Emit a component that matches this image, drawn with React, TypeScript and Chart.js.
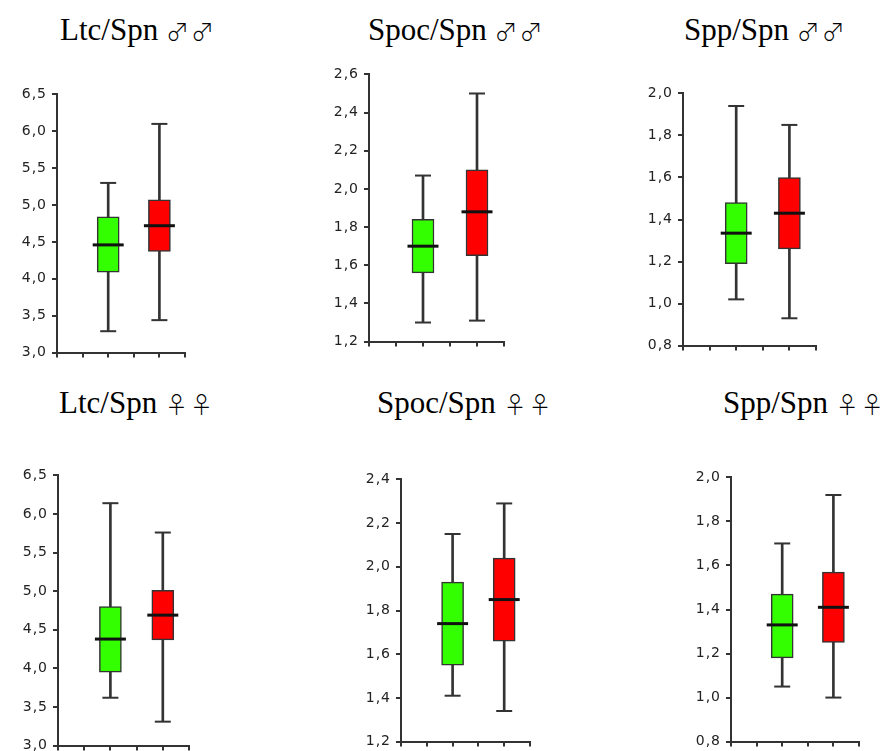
import React, { useEffect, useRef } from "react";
import { Chart, registerables } from "chart.js";

Chart.register(...registerables);

// ---------- data ----------
// x positions of the two groups on the 0..5 category axis
const groupPositions = [2, 4];
const xAxisRange = [0, 5];

// five-number summaries: [min, Q1, median, Q3, max]
const ltcMaleGreen = [3.29, 4.09, 4.46, 4.84, 5.3];
const ltcMaleRed = [3.44, 4.37, 4.72, 5.07, 6.1];
const spocMaleGreen = [1.3, 1.56, 1.7, 1.84, 2.07];
const spocMaleRed = [1.31, 1.65, 1.88, 2.1, 2.5];
const sppMaleGreen = [1.02, 1.19, 1.335, 1.48, 1.94];
const sppMaleRed = [0.93, 1.26, 1.43, 1.6, 1.85];
const ltcFemaleGreen = [3.62, 3.95, 4.38, 4.8, 6.14];
const ltcFemaleRed = [3.31, 4.37, 4.69, 5.01, 5.76];
const spocFemaleGreen = [1.41, 1.55, 1.74, 1.93, 2.15];
const spocFemaleRed = [1.34, 1.66, 1.85, 2.04, 2.29];
const sppFemaleGreen = [1.05, 1.18, 1.33, 1.47, 1.7];
const sppFemaleRed = [1.0, 1.25, 1.41, 1.57, 1.92];

const panelLabels = ["Ltc/Spn", "Spoc/Spn", "Spp/Spn", "Ltc/Spn", "Spoc/Spn", "Spp/Spn"];
const panelSexes = ["♂♂", "♂♂", "♂♂", "♀♀", "♀♀", "♀♀"];

// y axis: [min, max, step]
const yAxisLtc = [3.0, 6.5, 0.5];
const yAxisSpocMale = [1.2, 2.6, 0.2];
const yAxisSpocFemale = [1.2, 2.4, 0.2];
const yAxisSpp = [0.8, 2.0, 0.2];

const panelGreen = [ltcMaleGreen, spocMaleGreen, sppMaleGreen, ltcFemaleGreen, spocFemaleGreen, sppFemaleGreen];
const panelRed = [ltcMaleRed, spocMaleRed, sppMaleRed, ltcFemaleRed, spocFemaleRed, sppFemaleRed];
const panelYAxis = [yAxisLtc, yAxisSpocMale, yAxisSpp, yAxisLtc, yAxisSpocFemale, yAxisSpp];

// ---------- layout (pixels) ----------
const frames = [
  { L: 57, R: 185, T: 93, B: 354, tx: 60, tb: 39.5 },
  { L: 369, R: 504, T: 73, B: 343, tx: 368, tb: 40 },
  { L: 683, R: 816, T: 92, B: 347, tx: 684, tb: 40 },
  { L: 58, R: 189, T: 474, B: 747, tx: 59, tb: 413.3 },
  { L: 401, R: 530, T: 478, B: 743, tx: 377, tb: 413.3 },
  { L: 731, R: 859, T: 476, B: 743, tx: 723, tb: 413.3 },
];

const GREEN = "#33ff00";
const RED = "#ff0000";
const AXIS = "#333333";
const Y_AXIS_W = 50;
const X_AXIS_H = 12;
const PAD = 12;

const letterSpacingPlugin = {
  id: "tickLetterSpacing",
  beforeDraw(chart: any) {
    chart.ctx.letterSpacing = "1px";
  },
};

function BoxPanel({ idx }: { idx: number }) {
  const ref = useRef<HTMLCanvasElement | null>(null);
  const f = frames[idx];
  const width = f.R - f.L + Y_AXIS_W + PAD;
  const height = f.B - f.T + PAD + X_AXIS_H;

  useEffect(() => {
    const canvas = ref.current;
    if (!canvas) return;
    const g = panelGreen[idx];
    const r = panelRed[idx];
    const [yMin, yMax, yStep] = panelYAxis[idx];
    const [gx, rx] = groupPositions;

    const axisGrid = {
      display: true,
      drawOnChartArea: false,
      drawTicks: true,
      tickLength: 5,
      color: AXIS,
      lineWidth: 2,
      offset: false,
    };
    const axisBorder = { display: true, color: AXIS, width: 2 };

    const chart = new Chart(canvas, {
      type: "bar",
      data: {
        datasets: [
          {
            type: "scatter",
            data: [
              { x: gx, y: g[2] },
              { x: rx, y: r[2] },
            ],
            pointStyle: "line",
            pointRadius: 15.5,
            pointHoverRadius: 15.5,
            pointBorderWidth: 3,
            pointBorderColor: "#111111",
            order: 0,
            clip: false,
          } as any,
          {
            type: "scatter",
            data: [
              { x: gx, y: g[0] },
              { x: gx, y: g[4] },
              { x: rx, y: r[0] },
              { x: rx, y: r[4] },
            ],
            pointStyle: "line",
            pointRadius: 8,
            pointHoverRadius: 8,
            pointBorderWidth: 2,
            pointBorderColor: AXIS,
            order: 1,
            clip: false,
          } as any,
          {
            type: "bar",
            data: [
              { x: gx, y: [g[1], g[3]] },
              { x: rx, y: [r[1], r[3]] },
            ],
            backgroundColor: [GREEN, RED],
            borderColor: AXIS,
            borderWidth: 1.5,
            borderSkipped: false,
            barThickness: 22,
            grouped: false,
            order: 2,
          } as any,
          {
            type: "bar",
            data: [
              { x: gx, y: [g[0], g[4]] },
              { x: rx, y: [r[0], r[4]] },
            ],
            backgroundColor: AXIS,
            borderWidth: 0,
            barThickness: 2,
            grouped: false,
            order: 3,
          } as any,
        ],
      },
      options: {
        responsive: false,
        animation: false,
        events: [],
        layout: {
          autoPadding: false,
          padding: { top: PAD, right: PAD, bottom: 0, left: 0 },
        },
        plugins: {
          legend: { display: false },
          tooltip: { enabled: false },
        },
        scales: {
          x: {
            type: "linear",
            min: xAxisRange[0],
            max: xAxisRange[1],
            offset: false,
            ticks: { display: false, stepSize: 1 },
            grid: axisGrid,
            border: axisBorder,
            afterFit: (s: any) => {
              s.height = X_AXIS_H;
            },
          },
          y: {
            type: "linear",
            min: yMin,
            max: yMax,
            ticks: {
              stepSize: yStep,
              padding: 5,
              color: "#222222",
              font: { family: "Verdana, 'DejaVu Sans', Arial, sans-serif", size: 14 },
              callback: (v: any) => Number(v).toFixed(1).replace(".", ","),
            },
            grid: axisGrid,
            border: axisBorder,
            afterFit: (s: any) => {
              s.width = Y_AXIS_W;
            },
          },
        },
      } as any,
      plugins: [letterSpacingPlugin],
    });
    return () => chart.destroy();
  }, [idx]);

  return (
    <canvas
      ref={ref}
      width={width}
      height={height}
      style={{
        position: "absolute",
        left: f.L - Y_AXIS_W,
        top: f.T - PAD,
        width,
        height,
      }}
    />
  );
}

export default function App() {
  return (
    <div
      style={{
        position: "absolute",
        left: 0,
        top: 0,
        width: 890,
        height: 751,
        overflow: "hidden",
        background: "#ffffff",
      }}
    >
      {frames.map((f, i) => (
        <div
          key={"t" + i}
          style={{
            position: "absolute",
            left: f.tx,
            top: f.tb - 26,
            whiteSpace: "nowrap",
            fontFamily: "'Liberation Serif', serif",
            fontSize: 31,
            lineHeight: "31px",
            color: "#000",
          }}
        >
          {panelLabels[i]}{" "}
          <span
            style={{
              fontFamily: "'Noto Sans CJK JP', 'DejaVu Sans', sans-serif",
              fontWeight: 300,
              fontSize: 23,
              letterSpacing: 2,
            }}
          >
            {panelSexes[i]}
          </span>
        </div>
      ))}
      {frames.map((_, i) => (
        <BoxPanel key={"p" + i} idx={i} />
      ))}
    </div>
  );
}
